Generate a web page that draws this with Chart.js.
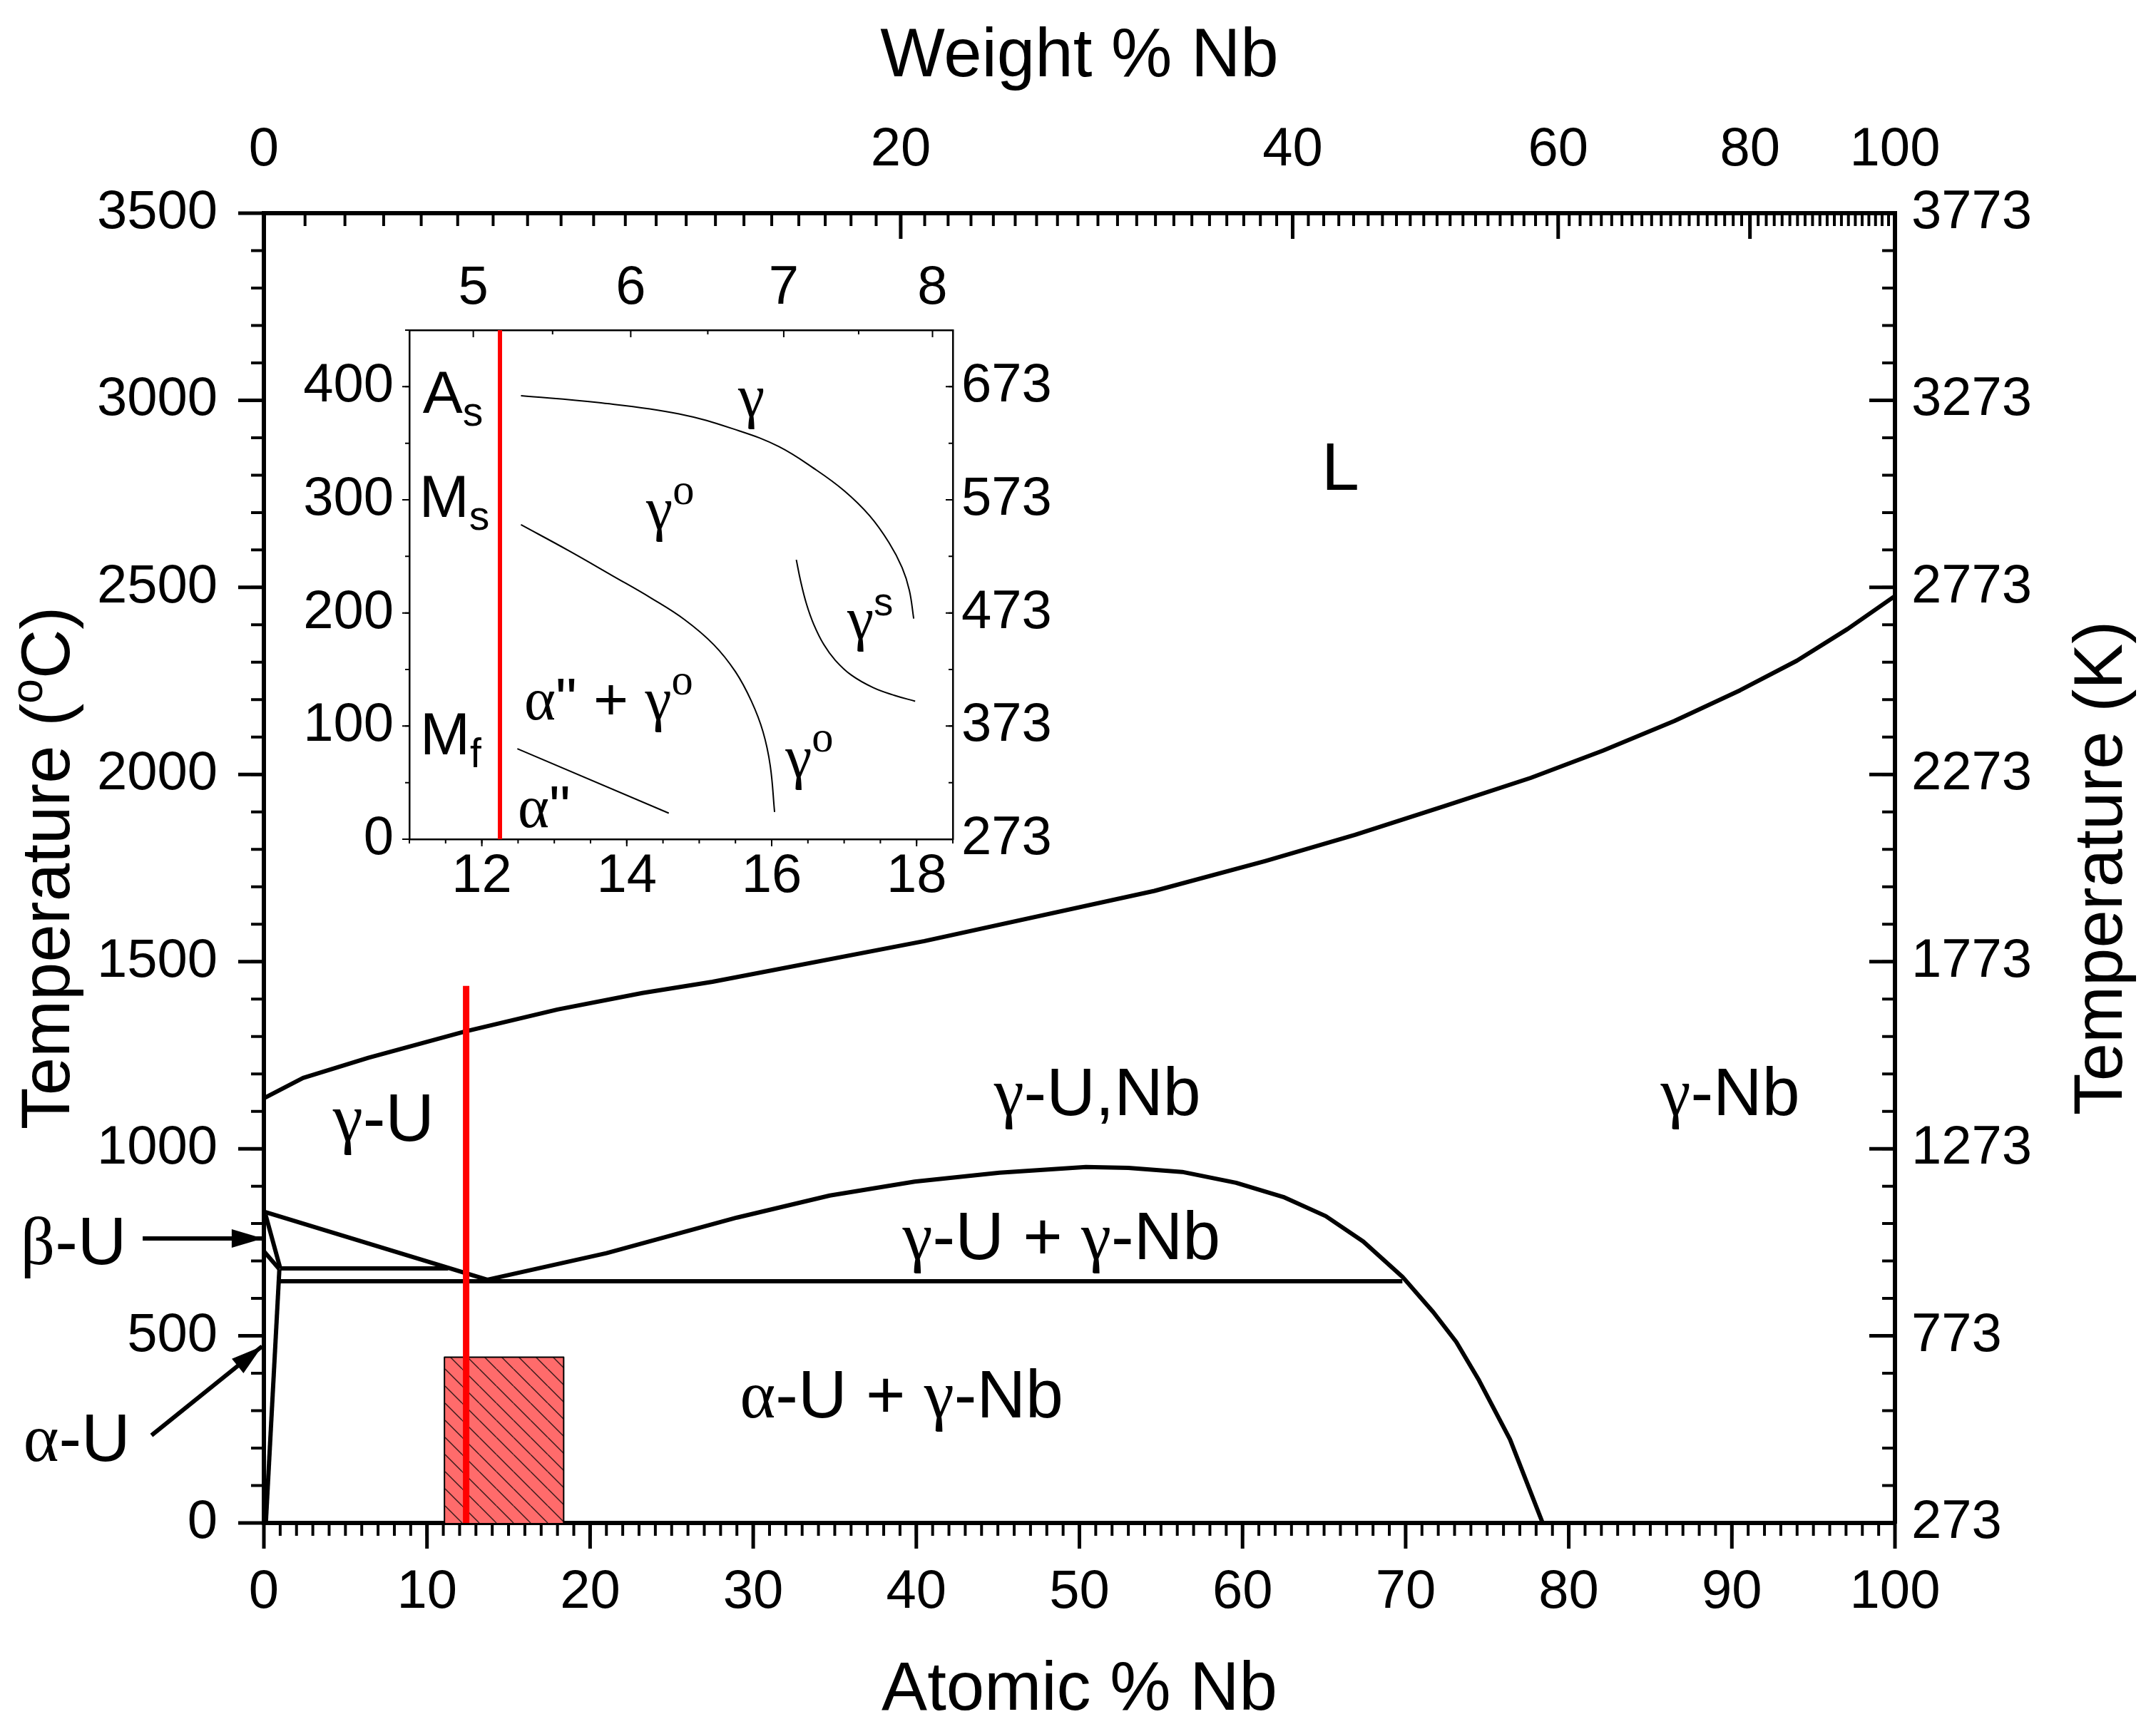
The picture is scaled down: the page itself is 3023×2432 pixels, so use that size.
<!DOCTYPE html>
<html>
<head>
<meta charset="utf-8">
<title>U-Nb phase diagram</title>
<script src="https://cdn.jsdelivr.net/npm/chart.js@4.4.1/dist/chart.umd.min.js"></script>
<style>
  html, body { margin: 0; padding: 0; background: #fff; }
  #wrap { position: relative; width: 3023px; height: 2432px; }
  canvas { position: absolute; }
</style>
</head>
<body>
<div id="wrap">
  <canvas id="main" width="3023" height="2432" style="left:0;top:0"></canvas>
  <canvas id="inset" width="1110" height="960" style="left:380px;top:350px"></canvas>
</div>
<script>
// x = atomic % Nb, y = temperature in °C
const liquidus = [[0, 1135], [2.4, 1189], [6.4, 1243], [12.3, 1313], [18, 1372], [23.2, 1416], [27.5, 1446],
  [40.5, 1555], [54.6, 1689], [61.4, 1769], [66.9, 1839], [72.34, 1915], [77.67, 1991], [82.1, 2064],
  [86.47, 2143], [90.5, 2225], [93.98, 2304], [97.1, 2389], [100, 2477]];
const miscibilityGap = [[13.7, 650], [21, 721], [29, 816], [34.7, 875], [39.9, 912], [45.1, 936], [50.4, 951],
  [53, 949], [56.3, 938], [59.6, 909], [62.5, 871], [65.1, 820], [67.4, 752], [69.8, 658], [71.7, 563],
  [73.1, 484], [74.5, 381], [76.4, 223], [78.4, 0]];
const betaGamma = [[0, 832], [13.7, 650]];
const eutectoid = [[1.0, 680], [11.3, 680]];
const monotectoid = [[0.8, 646], [69.8, 646]];
const betaSolvus = [[0.1, 824], [1.0, 681]];
const alphaBeta = [[0, 726], [0.95, 678]];
const alphaSolvus = [[0.95, 678], [0.12, 0]];
const alloyLine = [[12.4, 0], [12.4, 1435]];
const insetBox = [[11.07, 0], [11.07, 443], [18.38, 443], [18.38, 0]];
const betaArrow = [[-7.43, 760], [-0.05, 760]];
const alphaArrow = [[-6.89, 234], [-0.11, 472]];

// inset: x = atomic % Nb, y = temperature in °C
const asCurve = [[12.54, 392], [13.6, 386], [14.72, 376], [15.55, 361], [16.1, 347], [16.6, 327], [17.0, 308],
  [17.35, 286], [17.62, 262], [17.8, 240], [17.9, 220], [17.96, 195]];
const msCurve = [[12.54, 278], [13.2, 255], [13.8, 233], [14.34, 213], [14.8, 194], [15.2, 172], [15.5, 148],
  [15.72, 122], [15.88, 95], [15.98, 65], [16.04, 24]];
const gsCurve = [[16.34, 247], [16.4, 228], [16.48, 208], [16.58, 190], [16.72, 172], [16.88, 158],
  [17.1, 145], [17.4, 134], [17.7, 127], [17.98, 122]];
const mfLine = [[12.49, 80], [14.58, 23]];
const insetAlloy = [[12.25, 0], [12.25, 450]];

const atTicks = [0, 10, 20, 30, 40, 50, 60, 70, 80, 90, 100];
const wtTicks = [0, 20, 40, 60, 80, 100];
const degTicks = [0, 500, 1000, 1500, 2000, 2500, 3000, 3500];
const kelvinTicks = [273, 773, 1273, 1773, 2273, 2773, 3273, 3773];
const insetAtTicks = [12, 14, 16, 18];
const insetWtTicks = [5, 6, 7, 8];
const insetDegTicks = [0, 100, 200, 300, 400];
const insetKelvinTicks = [273, 373, 473, 573, 673];

// phase labels: y is the text baseline
const mainLabels = [
  {x: 66.0, y: 2760, runs: [['L', 's']]},
  {x: 7.34, y: 1021, runs: [['γ', 'g'], ['-U', 's']]},
  {x: 51.1, y: 1090, runs: [['γ', 'g'], ['-U,Nb', 's']]},
  {x: 89.9, y: 1090, runs: [['γ', 'g'], ['-Nb', 's']]},
  {x: 48.9, y: 705, runs: [['γ', 'g'], ['-U + ', 's'], ['γ', 'g'], ['-Nb', 's']]},
  {x: 39.1, y: 282, runs: [['α', 'g'], ['-U + ', 's'], ['γ', 'g'], ['-Nb', 's']]},
  {x: -11.67, y: 691, runs: [['β', 'g'], ['-U', 's']]},
  {x: -11.47, y: 166, runs: [['α', 'g'], ['-U', 's']]}
];
const insetLabels = [
  {x: 11.6, y: 377, runs: [['A', 's'], ['s', 'sub']]},
  {x: 11.62, y: 285, runs: [['M', 's'], ['s', 'sub']]},
  {x: 11.57, y: 75, runs: [['M', 's'], ['f', 'sub']]},
  {x: 15.72, y: 374, runs: [['γ', 'g']]},
  {x: 14.6, y: 274, runs: [['γ', 'g'], ['o', 'gsup']]},
  {x: 17.36, y: 177, runs: [['γ', 'g'], ['s', 'sup']]},
  {x: 13.75, y: 106, runs: [['α', 'g'], ['" + ', 's'], ['γ', 'g'], ['o', 'gsup']]},
  {x: 16.52, y: 55, runs: [['γ', 'g'], ['o', 'gsup']]},
  {x: 12.86, y: 11, runs: [['α', 'g'], ['"', 's']]}
];
const sideTitleText = [
  {x: 97, runs: [['Temperature (', 's'], ['o', 'sup'], ['C)', 's']]},
  {x: 2975, runs: [['Temperature (K)', 's']]}
];

const M_U = 238.029, M_NB = 92.906;
const SANS = '"Liberation Sans", Arial, sans-serif';
const SERIF = '"Liberation Serif", "Times New Roman", serif';
Chart.defaults.font.family = SANS;
Chart.defaults.color = '#000';

const pts = a => a.map(([x, y]) => ({x, y}));
const range = (a, b, step) => {
  const out = [];
  for (let v = a; v <= b + 1e-9; v += step) out.push(+v.toFixed(4));
  return out;
};
const wtToAt = w => {
  const nb = w / M_NB, u = (100 - w) / M_U;
  return 100 * nb / (nb + u);
};

function curve(data, color, width, extra) {
  return Object.assign({
    data: pts(data), borderColor: color, borderWidth: width, pointRadius: 0,
    fill: false, tension: 0, borderJoinStyle: 'round'
  }, extra || {});
}

function hatchPattern(ctx) {
  const c = document.createElement('canvas');
  c.width = 24; c.height = 24;
  const g = c.getContext('2d');
  g.fillStyle = '#ff6b6b';
  g.fillRect(0, 0, 24, 24);
  g.strokeStyle = '#3b1c1c';
  g.lineWidth = 1.5;
  g.beginPath();
  for (const k of [-24, 0, 24]) { g.moveTo(k, 0); g.lineTo(k + 24, 24); }
  g.stroke();
  return ctx.createPattern(c, 'repeat');
}

function axis(o) {
  return {
    type: 'linear', position: o.pos, min: o.min, max: o.max, bounds: 'data',
    grid: {display: false, drawTicks: false},
    border: {display: true, color: '#000', width: o.bw},
    afterBuildTicks: s => { s.ticks = o.ticks.map(v => ({value: v})); },
    afterFit: s => { if (s.isHorizontal()) s.height = o.size; else s.width = o.size; },
    ticks: {autoSkip: false, maxRotation: 0, padding: o.pad, font: {size: 76},
      callback: (v, i) => o.labels[i]},
    title: o.title ? {display: true, text: o.title, font: {size: 96}, padding: o.tpad} : {display: false}
  };
}

// lay out runs of sans / greek / sub / sup text and draw them centred on cx
function drawRuns(ctx, runs, size, cx, by) {
  const parts = runs.map(([t, kind]) => {
    let fs = size, dy = 0, fam = SANS;
    if (kind === 'g') fam = SERIF;
    if (kind === 'sup') { fs = size * 0.65; dy = -size * 0.4; }
    if (kind === 'gsup') { fs = size * 0.72; dy = -size * 0.42; fam = SERIF; }
    if (kind === 'sub') { fs = size * 0.68; dy = size * 0.22; }
    const font = fs + 'px ' + fam;
    ctx.font = font;
    return {t, font, dy, w: ctx.measureText(t).width};
  });
  const total = parts.reduce((a, p) => a + p.w, 0);
  let px = cx - total / 2;
  for (const p of parts) {
    ctx.font = p.font;
    ctx.fillText(p.t, px, by + p.dy);
    px += p.w;
  }
}

// tick marks with major/minor lengths, inward or outward
const tickMarks = {
  id: 'tickMarks',
  afterDraw(chart, args, opts) {
    const {ctx, chartArea} = chart;
    ctx.save();
    ctx.strokeStyle = '#000';
    for (const t of opts.axes) {
      const s = chart.scales[t.id];
      const edge = chartArea[s.position];
      const out = (s.position === 'bottom' || s.position === 'right') ? 1 : -1;
      const dir = t.inward ? -out : out;
      const draw = (vals, len, w) => {
        ctx.lineWidth = w;
        ctx.beginPath();
        for (const v of vals) {
          const p = s.getPixelForValue(v);
          if (s.isHorizontal()) { ctx.moveTo(p, edge); ctx.lineTo(p, edge + dir * len); }
          else { ctx.moveTo(edge, p); ctx.lineTo(edge + dir * len, p); }
        }
        ctx.stroke();
      };
      draw(t.minor, opts.len[1], opts.w[1]);
      draw(t.major, opts.len[0], opts.w[0]);
    }
    ctx.restore();
  }
};

const phaseText = {
  id: 'phaseText',
  afterDatasetsDraw(chart, args, opts) {
    const {ctx, scales} = chart;
    ctx.save();
    ctx.fillStyle = '#000';
    ctx.textBaseline = 'alphabetic';
    ctx.textAlign = 'left';
    for (const lab of opts.items) {
      drawRuns(ctx, lab.runs, opts.size, scales.x.getPixelForValue(lab.x), scales.y.getPixelForValue(lab.y));
    }
    ctx.restore();
  }
};

// both temperature titles read bottom to top
const sideTitles = {
  id: 'sideTitles',
  afterDraw(chart, args, opts) {
    const {ctx, chartArea} = chart;
    const cy = (chartArea.top + chartArea.bottom) / 2;
    for (const t of opts.items) {
      ctx.save();
      ctx.fillStyle = '#000';
      ctx.textBaseline = 'alphabetic';
      ctx.textAlign = 'left';
      ctx.translate(t.x, cy);
      ctx.rotate(-Math.PI / 2);
      drawRuns(ctx, t.runs, opts.size, 0, 0);
      ctx.restore();
    }
  }
};

const arrowHeads = {
  id: 'arrowHeads',
  afterDatasetsDraw(chart) {
    const ctx = chart.ctx;
    chart.data.datasets.forEach((ds, i) => {
      if (!ds.arrowHead) return;
      const el = chart.getDatasetMeta(i).data;
      const a = el[el.length - 2], b = el[el.length - 1];
      const ang = Math.atan2(b.y - a.y, b.x - a.x);
      ctx.save();
      ctx.fillStyle = '#000';
      ctx.translate(b.x, b.y);
      ctx.rotate(ang);
      ctx.beginPath();
      ctx.moveTo(0, 0);
      ctx.lineTo(-44, -13);
      ctx.lineTo(-44, 13);
      ctx.closePath();
      ctx.fill();
      ctx.restore();
    });
  }
};

const mainCtx = document.getElementById('main').getContext('2d');

new Chart(mainCtx, {
  type: 'line',
  data: {
    datasets: [
      curve(alloyLine, '#ff0000', 9),
      curve(liquidus, '#000', 6),
      curve(miscibilityGap, '#000', 6),
      curve(betaGamma, '#000', 6),
      curve(eutectoid, '#000', 6),
      curve(monotectoid, '#000', 6),
      curve(betaSolvus, '#000', 6),
      curve(alphaBeta, '#000', 6),
      curve(alphaSolvus, '#000', 6),
      curve(betaArrow, '#000', 6, {clip: false, arrowHead: true}),
      curve(alphaArrow, '#000', 6, {clip: false, arrowHead: true}),
      curve(insetBox, '#000', 2, {fill: 'origin', backgroundColor: hatchPattern(mainCtx)})
    ]
  },
  options: {
    responsive: false, animation: false, devicePixelRatio: 1, events: [],
    layout: {padding: 0},
    plugins: {
      legend: {display: false}, tooltip: {enabled: false},
      tickMarks: {len: [36, 18], w: [5, 4], axes: [
        {id: 'x', major: atTicks, minor: range(0, 100, 1), inward: false},
        {id: 'x2', major: wtTicks.map(wtToAt), minor: range(0, 100, 1).map(wtToAt), inward: true},
        {id: 'y', major: degTicks, minor: range(0, 3500, 100), inward: false},
        {id: 'y2', major: degTicks, minor: range(0, 3500, 100), inward: true}
      ]},
      phaseText: {size: 95, items: mainLabels},
      sideTitles: {size: 96, items: sideTitleText}
    },
    scales: {
      x: axis({pos: 'bottom', min: 0, max: 100, ticks: atTicks, labels: atTicks, pad: 52, size: 296,
        bw: 6, title: 'Atomic % Nb', tpad: {bottom: 3}}),
      x2: axis({pos: 'top', min: 0, max: 100, ticks: wtTicks.map(wtToAt), labels: wtTicks, pad: 42, size: 299,
        bw: 6, title: 'Weight % Nb', tpad: {top: 23}}),
      y: axis({pos: 'left', min: 0, max: 3500, ticks: degTicks, labels: degTicks, pad: 65, size: 370, bw: 6}),
      y2: axis({pos: 'right', min: 0, max: 3500, ticks: degTicks, labels: kelvinTicks, pad: 23, size: 366, bw: 6})
    }
  },
  plugins: [tickMarks, phaseText, arrowHeads, sideTitles]
});

new Chart(document.getElementById('inset'), {
  type: 'line',
  data: {
    datasets: [
      curve(insetAlloy, '#ff0000', 6),
      curve(asCurve, '#000', 2, {tension: 0.4}),
      curve(msCurve, '#000', 2, {tension: 0.4}),
      curve(gsCurve, '#000', 2, {tension: 0.4}),
      curve(mfLine, '#000', 2)
    ]
  },
  options: {
    responsive: false, animation: false, devicePixelRatio: 1, events: [],
    layout: {padding: 0},
    plugins: {
      legend: {display: false}, tooltip: {enabled: false},
      tickMarks: {len: [10, 6], w: [2, 2], axes: [
        {id: 'x', major: insetAtTicks, minor: range(11, 18.5, 0.5), inward: false},
        {id: 'x2', major: insetWtTicks.map(wtToAt), minor: [5.5, 6.5, 7.5].map(wtToAt), inward: true},
        {id: 'y', major: insetDegTicks, minor: range(0, 450, 50), inward: false},
        {id: 'y2', major: insetDegTicks, minor: range(0, 450, 50), inward: true}
      ]},
      phaseText: {size: 84, items: insetLabels}
    },
    scales: {
      x: axis({pos: 'bottom', min: 11, max: 18.5, ticks: insetAtTicks, labels: insetAtTicks, pad: 7, size: 133, bw: 2.5}),
      x2: axis({pos: 'top', min: 11, max: 18.5, ticks: insetWtTicks.map(wtToAt), labels: insetWtTicks, pad: 12, size: 113, bw: 2.5}),
      y: axis({pos: 'left', min: 0, max: 450, ticks: insetDegTicks, labels: insetDegTicks, pad: 22, size: 194, bw: 2.5}),
      y2: axis({pos: 'right', min: 0, max: 450, ticks: insetDegTicks, labels: insetKelvinTicks, pad: 12, size: 154, bw: 2.5})
    }
  },
  plugins: [tickMarks, phaseText]
});
</script>
</body>
</html>
